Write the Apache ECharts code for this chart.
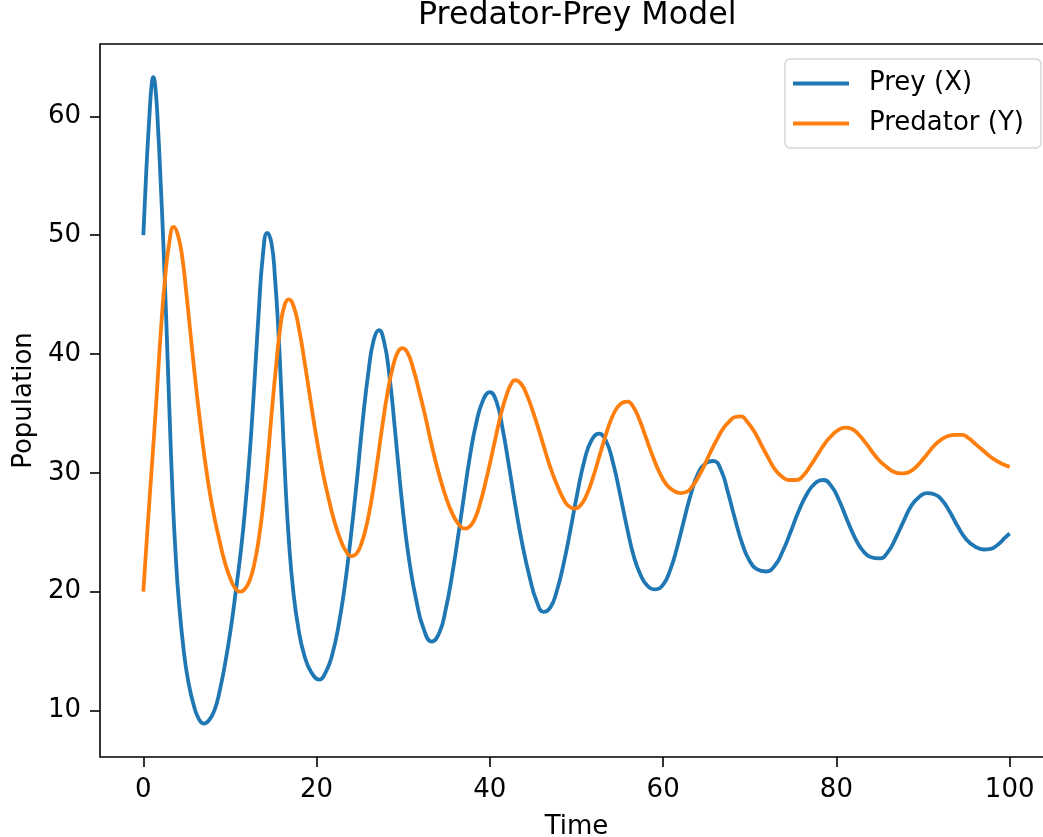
<!DOCTYPE html>
<html>
<head>
<meta charset="utf-8">
<script src="https://cdn.jsdelivr.net/npm/echarts@6/dist/echarts.min.js"></script>
<style>
html,body{margin:0;padding:0;background:#fff;overflow:hidden;}
#chart{width:1043px;height:837px;}
</style>
</head>
<body>
<div id="chart"></div>
<script>
// ---- data ----
const preyT = [0, 0.35, 0.7, 0.95, 1.15, 1.4, 1.7, 2.0, 2.3, 2.65, 3.0, 3.4, 3.7, 4.1, 4.7, 5.2, 5.8, 6.4, 7.0, 7.6, 8.2, 8.8, 9.5, 10.1, 10.7, 11.3, 11.8, 12.3, 12.8, 13.3, 13.8, 14.3, 14.8, 15.2, 15.6, 16.0, 16.4, 16.8, 17.3, 17.9, 18.6, 19.4, 20.3, 21.1, 21.8, 22.5, 23.2, 23.9, 24.6, 25.3, 26.0, 26.6, 27.2, 27.8, 28.4, 29.0, 29.6, 30.2, 30.8, 31.5, 32.3, 33.3, 34.2, 34.9, 35.6, 36.3, 37.0, 37.7, 38.4, 39.2, 40.0, 40.8, 41.5, 42.2, 43.0, 43.8, 44.6, 45.4, 46.2, 47.0, 47.7, 48.5, 49.3, 50.1, 50.9, 51.7, 52.6, 53.4, 54.2, 55.0, 55.8, 56.6, 57.4, 58.2, 59.1, 60.0, 60.8, 61.6, 62.4, 63.2, 64.0, 64.9, 65.8, 66.7, 67.5, 68.3, 69.1, 69.9, 70.8, 71.9, 72.9, 73.8, 74.7, 75.6, 76.5, 77.5, 78.5, 79.4, 80.3, 81.2, 82.1, 83.0, 84.0, 85.0, 86.0, 86.9, 87.8, 88.7, 89.6, 90.4, 91.3, 92.2, 93.1, 94.0, 95.0, 96.0, 97.0, 97.8, 98.7, 99.4, 100];
const preyX = [50.0, 55.5, 60.0, 62.6, 63.3, 62.4, 59.0, 54.5, 49.5, 42.8, 35.5, 27.8, 23.5, 19.2, 14.8, 12.4, 10.5, 9.3, 8.9, 9.2, 10.0, 11.6, 14.2, 16.9, 20.2, 23.7, 27.4, 31.8, 37.3, 43.3, 48.3, 50.2, 49.3, 46.4, 41.8, 35.6, 29.2, 24.3, 20.1, 16.9, 14.6, 13.2, 12.6, 13.3, 14.7, 17.0, 20.2, 24.3, 29.0, 34.2, 38.6, 41.2, 42.0, 41.0, 38.2, 34.0, 29.4, 25.3, 22.1, 19.3, 17.0, 15.8, 16.6, 18.5, 21.2, 24.5, 28.0, 31.4, 34.1, 36.1, 36.8, 35.9, 33.6, 30.6, 27.0, 23.8, 21.2, 19.2, 18.3, 18.7, 20.0, 22.3, 25.2, 28.3, 31.0, 32.7, 33.3, 32.7, 30.9, 28.3, 25.5, 23.0, 21.4, 20.5, 20.2, 20.6, 21.8, 23.7, 26.0, 28.2, 29.9, 30.8, 31.0, 30.2, 28.3, 26.1, 24.1, 22.7, 21.9, 21.7, 22.2, 23.4, 25.0, 26.7, 28.1, 29.1, 29.4, 28.9, 27.7, 26.1, 24.6, 23.5, 22.9, 22.8, 23.4, 24.6, 26.0, 27.3, 28.0, 28.3, 28.2, 27.7, 26.7, 25.5, 24.4, 23.8, 23.55, 23.6, 24.0, 24.5, 24.9];

const predT = [0, 0.5, 1.0, 1.5, 2.0, 2.5, 3.0, 3.5, 4.0, 4.5, 5.0, 5.6, 6.2, 6.8, 7.4, 8.0, 8.7, 9.4, 10.1, 10.7, 11.2, 11.8, 12.3, 12.8, 13.3, 13.8, 14.3, 14.8, 15.3, 15.8, 16.3, 16.8, 17.4, 18.0, 18.6, 19.3, 20.0, 20.7, 21.4, 22.1, 22.8, 23.4, 24.0, 24.6, 25.2, 25.8, 26.4, 27.0, 27.6, 28.2, 28.8, 29.4, 29.9, 30.5, 31.1, 31.8, 32.5, 33.2, 33.9, 34.6, 35.3, 36.0, 36.6, 37.1, 37.7, 38.3, 38.9, 39.5, 40.1, 40.7, 41.3, 41.9, 42.4, 42.9, 43.6, 44.3, 45.0, 45.7, 46.4, 47.1, 47.8, 48.5, 49.1, 49.8, 50.5, 51.2, 51.9, 52.6, 53.3, 54.0, 54.7, 55.3, 55.9, 56.6, 57.3, 58.0, 58.8, 59.6, 60.4, 61.2, 62.0, 62.7, 63.4, 64.1, 64.8, 65.5, 66.2, 66.9, 67.6, 68.3, 69.0, 69.7, 70.5, 71.3, 72.1, 72.9, 73.7, 74.5, 75.4, 76.2, 77.0, 77.8, 78.6, 79.4, 80.2, 81.0, 81.8, 82.6, 83.4, 84.2, 85.0, 85.8, 86.6, 87.4, 88.1, 88.9, 89.7, 90.5, 91.3, 92.1, 92.9, 93.7, 94.5, 95.3, 96.1, 96.9, 97.7, 98.5, 99.3, 100];
const predY = [20.0, 25.5, 30.7, 36.0, 41.7, 46.3, 49.4, 50.7, 50.0, 48.1, 44.9, 40.6, 36.5, 32.8, 29.6, 27.0, 24.6, 22.5, 21.0, 20.2, 20.0, 20.3, 21.0, 22.3, 24.3, 27.1, 30.7, 34.9, 38.8, 42.2, 44.1, 44.6, 43.9, 42.0, 39.4, 36.1, 32.9, 30.1, 27.8, 25.8, 24.3, 23.4, 23.0, 23.2, 24.1, 25.7, 28.0, 30.9, 34.0, 36.8, 38.9, 40.2, 40.5, 40.1, 38.9, 37.0, 34.9, 32.6, 30.5, 28.7, 27.2, 26.1, 25.5, 25.3, 25.5, 26.2, 27.5, 29.2, 31.1, 33.1, 35.0, 36.5, 37.4, 37.8, 37.5, 36.5, 35.1, 33.5, 31.8, 30.2, 28.9, 27.8, 27.2, 27.0, 27.3, 28.2, 29.6, 31.3, 33.0, 34.5, 35.5, 35.9, 36.0, 35.5, 34.4, 33.0, 31.4, 30.0, 29.0, 28.5, 28.3, 28.4, 28.9, 29.7, 30.7, 31.8, 32.8, 33.7, 34.3, 34.7, 34.75, 34.3, 33.5, 32.4, 31.3, 30.3, 29.7, 29.4, 29.4, 29.8, 30.6, 31.5, 32.4, 33.1, 33.6, 33.8, 33.7, 33.2, 32.5, 31.7, 31.0, 30.5, 30.1, 29.95, 30.0, 30.3, 30.9, 31.6, 32.3, 32.8, 33.1, 33.2, 33.2, 32.9, 32.4, 31.9, 31.4, 31.0, 30.7, 30.5];

const xTicks = [0, 20, 40, 60, 80, 100];
const yTicks = [10, 20, 30, 40, 50, 60];
const seriesNames = ['Prey (X)', 'Predator (Y)'];

// ---- chart ----
const zip = (a, b) => a.map((v, i) => [v, b[i]]);
const FONT = 'DejaVu Sans';
const chart = echarts.init(document.getElementById('chart'), null, {renderer: 'canvas'});
const linePath = 'path://M0,0 L56,0 L56,4 L0,4 Z';

chart.setOption({
  animation: false,
  backgroundColor: '#ffffff',
  title: {
    text: 'Predator-Prey Model',
    left: 418,
    top: 0,
    padding: 0,
    textStyle: {fontFamily: FONT, fontSize: 31.7, fontWeight: 'normal', color: '#000'}
  },
  legend: {
    orient: 'vertical',
    left: 785,
    top: 59,
    padding: [9.5, 17, 9.5, 8],
    itemWidth: 56,
    itemHeight: 4,
    itemGap: 10,
    icon: linePath,
    backgroundColor: '#ffffff',
    borderColor: '#d6d6d6',
    borderWidth: 1.5,
    borderRadius: 5,
    textStyle: {fontFamily: FONT, fontSize: 26, color: '#000', lineHeight: 30, padding: [0, 0, 0, 15]},
    data: seriesNames
  },
  grid: {
    left: 100, top: 44, width: 953, height: 713,
    show: true, borderColor: '#000', borderWidth: 1.6, backgroundColor: 'transparent',
    containLabel: false,
    outerBoundsMode: 'none'
  },
  xAxis: {
    type: 'value', min: -5, max: 105,
    name: 'Time', nameLocation: 'middle', nameGap: 57,
    nameTextStyle: {fontFamily: FONT, fontSize: 26, color: '#000'},
    axisLine: {show: false, onZero: false},
    axisTick: {show: true, length: 10, lineStyle: {color: '#000', width: 1.6}, customValues: xTicks},
    axisLabel: {show: true, margin: 20, fontFamily: FONT, fontSize: 26, color: '#000', customValues: xTicks},
    splitLine: {show: false}
  },
  yAxis: {
    type: 'value', min: 6.09, max: 66.09,
    name: 'Population', nameLocation: 'middle', nameGap: 62, nameRotate: 90,
    nameTextStyle: {fontFamily: FONT, fontSize: 26, color: '#000'},
    axisLine: {show: false, onZero: false},
    axisTick: {show: true, length: 10, lineStyle: {color: '#000', width: 1.6}, customValues: yTicks},
    axisLabel: {show: true, margin: 19, fontFamily: FONT, fontSize: 26, color: '#000', customValues: yTicks},
    splitLine: {show: false}
  },
  series: [
    {
      name: seriesNames[0], type: 'line', data: zip(preyT, preyX),
      showSymbol: false, symbol: 'none', smooth: 0.5,
      lineStyle: {color: '#1f77b4', width: 3.8}, itemStyle: {color: '#1f77b4'}
    },
    {
      name: seriesNames[1], type: 'line', data: zip(predT, predY),
      showSymbol: false, symbol: 'none', smooth: 0.5,
      lineStyle: {color: '#ff7f0e', width: 3.8}, itemStyle: {color: '#ff7f0e'}
    }
  ]
});
</script>
</body>
</html>
